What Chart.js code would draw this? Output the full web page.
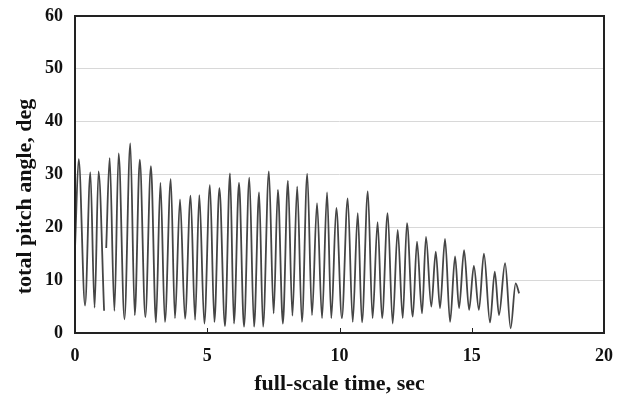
<!DOCTYPE html>
<html>
<head>
<meta charset="utf-8">
<script src="https://cdn.jsdelivr.net/npm/chart.js@4"></script>
<style>
  html, body { margin: 0; padding: 0; background: #fff; }
  #wrap { width: 621px; height: 404px; }
</style>
</head>
<body>
<div id="wrap"><canvas id="grafico" width="621" height="404"></canvas></div>
<script>
// tempo (s) e angulo (graus), picos e vales
let tempo = [0.00, 0.14, 0.38, 0.58, 0.74, 0.89, 1.10, 1.14, 1.18, 1.31, 1.49, 1.65, 1.87, 2.09, 2.26, 2.45, 2.66, 2.87, 3.06, 3.23,
    3.40, 3.62, 3.78, 3.97, 4.16, 4.37, 4.54, 4.70, 4.89, 5.10, 5.27, 5.46, 5.67, 5.86, 6.01, 6.20, 6.39, 6.59,
    6.77, 6.96, 7.11, 7.33, 7.51, 7.67, 7.86, 8.05, 8.22, 8.40, 8.58, 8.78, 8.96, 9.15, 9.34, 9.53, 9.69, 9.88,
    10.09, 10.31, 10.50, 10.69, 10.85, 11.07, 11.25, 11.44, 11.61, 11.82, 12.01, 12.20, 12.39, 12.55, 12.77, 12.93, 13.12, 13.27,
    13.47, 13.64, 13.80, 13.99, 14.18, 14.37, 14.52, 14.71, 14.90, 15.08, 15.27, 15.46, 15.69, 15.87, 16.03, 16.26, 16.47, 16.66, 16.79]

let angulo = [16.0, 32.9, 5.2, 30.4, 4.8, 30.6, 4.2, null, 16.1, 33.1, 4.2, 34.0, 2.6, 35.9, 3.4, 32.8, 3.0, 31.6, 2.0, 28.4,
    2.1, 29.1, 2.8, 25.3, 2.7, 26.0, 2.5, 26.1, 1.8, 28.0, 2.1, 27.4, 1.3, 30.2, 1.8, 28.4, 1.2, 29.4,
    1.2, 26.6, 1.2, 30.6, 3.7, 27.1, 1.8, 28.8, 3.3, 27.7, 2.1, 30.1, 3.4, 24.6, 2.8, 26.6, 2.8, 23.7,
    2.8, 25.5, 2.1, 22.7, 2.0, 26.8, 2.8, 21.0, 2.8, 22.7, 1.8, 19.5, 2.8, 20.8, 3.1, 17.3, 3.7, 18.2,
    5.0, 15.4, 4.7, 17.8, 2.1, 14.5, 4.7, 15.7, 4.4, 12.7, 4.4, 15.0, 2.0, 11.6, 3.4, 13.2, 0.9, 9.4, 7.5]

let ticksX = [0, 5, 10, 15, 20]
let ticksY = [0, 10, 20, 30, 40, 50, 60]
let tituloY = 'total pitch angle, deg'

let pontos = tempo.map((t, i) => ({ x: t, y: angulo[i] }))

let fonteEixo = 'Liberation Serif, Times New Roman, serif'

// caixa em volta da area, tracinhos para dentro no eixo x e titulo do eixo y
let moldura = {
    id: 'moldura',
    afterDraw(chart) {
        const ctx = chart.ctx
        const a = chart.chartArea
        const sx = chart.scales.x
        ctx.save()
        ctx.strokeStyle = '#222'
        ctx.lineWidth = 1
        ticksX.slice(1, -1).forEach(v => {
            const px = Math.round(sx.getPixelForValue(v)) + 0.5
            ctx.beginPath()
            ctx.moveTo(px, a.bottom)
            ctx.lineTo(px, a.bottom - 5)
            ctx.stroke()
        })
        ctx.lineWidth = 2
        ctx.strokeRect(a.left, a.top, a.right - a.left, a.bottom - a.top)

        // titulo y um pouco abaixo do centro, como no original
        ctx.translate(25, (a.top + a.bottom) / 2 + 22)
        ctx.rotate(-Math.PI / 2)
        ctx.fillStyle = '#111'
        ctx.font = 'bold 22px ' + fonteEixo
        ctx.textAlign = 'center'
        ctx.textBaseline = 'middle'
        ctx.fillText(tituloY, 0, 0)
        ctx.restore()
    }
}

// tira a folga automatica dos rotulos para a area ficar onde o original esta
let semFolga = s => {
    s.paddingTop = 0
    s.paddingBottom = 0
    s.paddingLeft = 0
    s.paddingRight = 0
}

new Chart(document.getElementById('grafico'), {
    type: 'scatter',
    data: {
        datasets: [{
            data: pontos,
            showLine: true,
            spanGaps: false,
            borderColor: '#454545',
            borderWidth: 1.8,
            pointRadius: 0,
            cubicInterpolationMode: 'monotone'
        }]
    },
    options: {
        responsive: false,
        animation: false,
        layout: { padding: { left: 0, right: 17, top: 16, bottom: 0 } },
        plugins: { legend: { display: false }, tooltip: { enabled: false } },
        scales: {
            x: {
                type: 'linear',
                min: 0, max: 20,
                afterFit: s => { s.height = 71; semFolga(s) },
                afterBuildTicks: s => { s.ticks = ticksX.map(v => ({ value: v })) },
                grid: { display: false, drawTicks: false },
                border: { display: false },
                ticks: { color: '#111', padding: 13, font: { family: fonteEixo, size: 18, weight: 'bold' } },
                title: {
                    display: true,
                    text: 'full-scale time, sec',
                    color: '#111',
                    padding: { top: 0, bottom: 6 },
                    font: { family: fonteEixo, size: 22, weight: 'bold' }
                }
            },
            y: {
                min: 0, max: 60,
                afterFit: s => { s.width = 75; semFolga(s) },
                afterBuildTicks: s => { s.ticks = ticksY.map(v => ({ value: v })) },
                grid: { color: '#d8d8d8', lineWidth: 1, drawTicks: false },
                border: { display: false },
                ticks: { color: '#111', padding: 12, font: { family: fonteEixo, size: 18, weight: 'bold' } }
            }
        }
    },
    plugins: [moldura]
})
</script>
</body>
</html>
